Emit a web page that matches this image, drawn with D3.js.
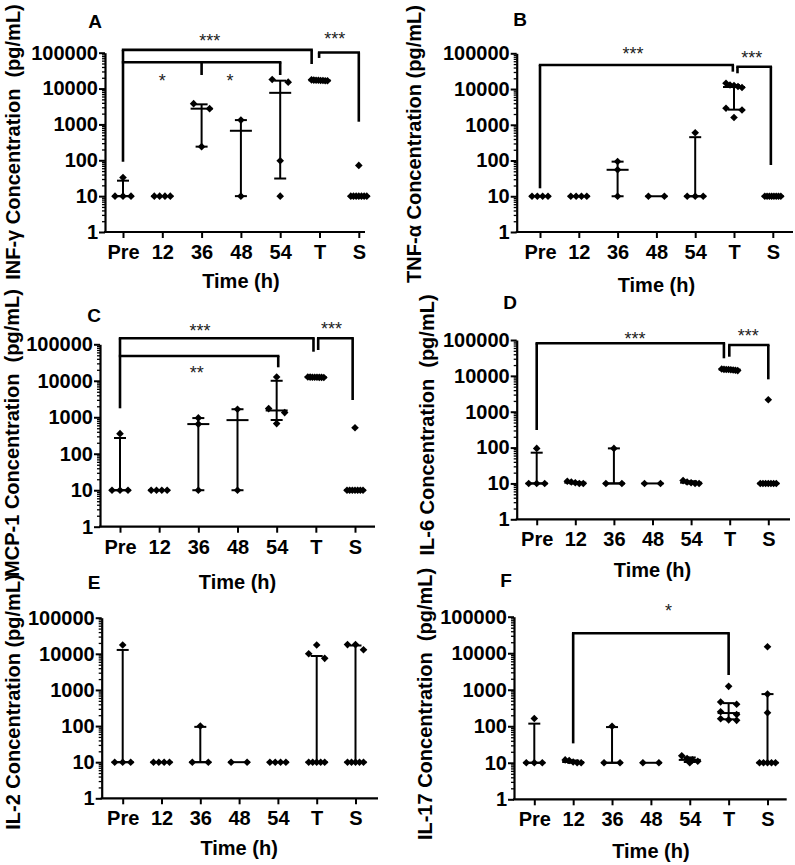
<!DOCTYPE html>
<html>
<head>
<meta charset="utf-8">
<script src="https://cdn.jsdelivr.net/npm/d3@7"></script>
<style>
  body { margin: 0; background: #fff; }
  svg { display: block; }
  text { font-family: "Liberation Sans", Arial, Helvetica, sans-serif; }
</style>
</head>
<body>
<svg id="chart" width="795" height="865"></svg>
<script>
// ---------------- DATA ----------------
const categories = ["Pre", "12", "36", "48", "54", "T", "S"];
const yTickValues = [1, 10, 100, 1000, 10000, 100000];
const xAxisTitle = "Time (h)";

// Panel A: INF-γ
const ifnPoints = [
  [33, 10, 10, 10], [10, 10, 10, 10], [3800, 2750, 240], [1320, 10],
  [17900, 15100, 97, 10],
  [17500, 17200, 17000, 17000, 16800, 16800, 16500, 16500],
  [72, 10, 10, 10, 10, 10, 10, 10]
];
const ifnMedian = [10, 10, 2750, 665, 7600, 17000, 10];
const ifnLower  = [10, 10, 240, 10, 31, 16800, 10];
const ifnUpper  = [27, 10, 3630, 1320, 16600, 17200, 10];
const ifnBrackets = [
  { y: 120000, x1: 0, x2: 4.80, drops: [[0, 91], [4.80, 48400]] },
  { y: 54000, x1: 0, x2: 4.0, drops: [[2, 23900], [4.0, 23900]] },
  { y: 101000, x1: 4.99, x2: 6.0, drops: [[4.99, 71300], [6.0, 1190]] }
];
const ifnStars = [
  { x: 2.21, y: 282000, label: "***" }, { x: 5.39, y: 309000, label: "***" },
  { x: 1.0, y: 21400, label: "*" }, { x: 2.72, y: 21400, label: "*" }
];

// Panel B: TNF-α
const tnfPoints = [
  [10, 10, 10, 10], [10, 10, 10, 10], [94, 55, 10], [10, 10], [600, 10, 10, 10],
  [14500, 13000, 12500, 11800, 11000, 2900, 2600, 1600],
  [10, 10, 10, 10, 10, 10, 10, 10]
];
const tnfMedian = [10, 10, 55, 10, 10, 11400, 10];
const tnfLower  = [10, 10, 10, 10, 10, 2650, 10];
const tnfUpper  = [10, 10, 93, 10, 450, 12900, 10];
const tnfBrackets = [
  { y: 47100, x1: 0, x2: 4.97, drops: [[0, 16.7], [4.97, 30600]] },
  { y: 42200, x1: 5.09, x2: 5.95, drops: [[5.09, 27600], [5.95, 75]] }
];
const tnfStars = [
  { x: 2.40, y: 123000, label: "***" }, { x: 5.46, y: 95500, label: "***" }
];

// Panel C: MCP-1
const mcpPoints = [
  [355, 10, 10, 10], [10, 10, 10, 10], [960, 650, 10], [1660, 10],
  [12700, 1730, 1340, 670],
  [12700, 12600, 12500, 12500, 12500, 12400, 12400, 12300],
  [515, 10, 10, 10, 10, 10, 10, 10]
];
const mcpMedian = [10, 10, 650, 835, 1535, 12500, 10];
const mcpLower  = [10, 10, 10, 10, 840, 12400, 10];
const mcpUpper  = [270, 10, 950, 1660, 10000, 12600, 10];
const mcpBrackets = [
  { y: 146000, x1: 0, x2: 4.94, drops: [[0, 1760], [4.94, 62700]] },
  { y: 47800, x1: 0, x2: 4.04, drops: [[4.04, 23400]] },
  { y: 146000, x1: 5.06, x2: 5.94, drops: [[5.06, 69800], [5.94, 2970]] }
];
const mcpStars = [
  { x: 2.04, y: 302000, label: "***" }, { x: 5.40, y: 339000, label: "***" },
  { x: 1.96, y: 20900, label: "**" }
];

// Panel D: IL-6
const il6Points = [
  [95, 10, 10, 10], [11.5, 11, 10.5, 10, 10], [95, 10, 10], [10, 10],
  [12, 11, 10.5, 10, 10],
  [15500, 15200, 15000, 15000, 14800, 14600, 14400, 14000],
  [2150, 10, 10, 10, 10, 10, 10, 10]
];
const il6Median = [10, 10.5, 10, 10, 10.5, 14900, 10];
const il6Lower  = [10, 10, 10, 10, 10, 14500, 10];
const il6Upper  = [72, 11, 95, 10, 11.5, 15200, 10];
const il6Brackets = [
  { y: 80900, x1: 0, x2: 4.85, drops: [[0, 309], [4.85, 30900]] },
  { y: 72400, x1: 4.99, x2: 6.0, drops: [[4.99, 34200], [6.0, 8000]] }
];
const il6Stars = [
  { x: 2.55, y: 138000, label: "***" }, { x: 5.48, y: 170000, label: "***" }
];

// Panel E: IL-2
const il2Points = [
  [17500, 10, 10, 10], [10, 10, 10, 10], [100, 10, 10], [10, 10], [10, 10, 10, 10],
  [17500, 10000, 7500, 10, 10, 10, 10, 10],
  [18000, 18000, 13000, 10, 10, 10, 10, 10]
];
const il2Median = [10, 10, 10, 10, 10, 10, 10];
const il2Lower  = [10, 10, 10, 10, 10, 10, 10];
const il2Upper  = [12800, 10, 95, 10, 10, 8700, 17000];
const il2Brackets = [];
const il2Stars = [];

// Panel F: IL-17
const il17Points = [
  [163, 10, 10, 10], [12, 11.5, 10.5, 10, 10], [100, 10, 10], [10, 10],
  [15.5, 13, 12, 11, 10],
  [1240, 460, 400, 250, 210, 160, 150, 145],
  [15100, 760, 235, 10, 10, 10, 10, 10]
];
const il17Median = [10, 10.5, 10, 10, 12, 230, 10];
const il17Lower  = [10, 10, 10, 10, 10.5, 155, 10];
const il17Upper  = [118, 11.5, 95, 10, 14, 430, 760];
const il17Brackets = [
  { y: 35100, x1: 1, x2: 5, drops: [[1, 34], [5, 2530]] }
];
const il17Stars = [{ x: 3.45, y: 186000, label: "*" }];

// ---------------- LAYOUT ----------------
const panels = [
  { letter: "A", title: "INF-\u03b3 Concentration  (pg/mL)", points: ifnPoints, median: ifnMedian, lower: ifnLower, upper: ifnUpper, brackets: ifnBrackets, stars: ifnStars,
    L: { x0: 105, xEnd: 365, first: 123, last: 358.8, yTop: 52.7, yBot: 232, lx: 95, ly: 21, tx: 12.8, ty: 142, timeY: 281 } },
  { letter: "B", title: "TNF-\u03b1 Concentration (pg/mL)", points: tnfPoints, median: tnfMedian, lower: tnfLower, upper: tnfUpper, brackets: tnfBrackets, stars: tnfStars,
    L: { x0: 516.7, xEnd: 793, first: 540, last: 772.8, yTop: 53.3, yBot: 232, lx: 520, ly: 19, tx: 414, ty: 144, timeY: 285 } },
  { letter: "C", title: "MCP-1 Concentration  (pg/mL)", points: mcpPoints, median: mcpMedian, lower: mcpLower, upper: mcpUpper, brackets: mcpBrackets, stars: mcpStars,
    L: { x0: 100, xEnd: 375, first: 120, last: 355, yTop: 344.3, yBot: 526.7, lx: 94, ly: 315, tx: 11.5, ty: 433, timeY: 582 } },
  { letter: "D", title: "IL-6 Concentration  (pg/mL)", points: il6Points, median: il6Median, lower: il6Lower, upper: il6Upper, brackets: il6Brackets, stars: il6Stars,
    L: { x0: 516.7, xEnd: 790, first: 536.7, last: 768.3, yTop: 340, yBot: 519.3, lx: 510, ly: 302, tx: 426.7, ty: 425, timeY: 570 } },
  { letter: "E", title: "IL-2 Concentration (pg/mL)", points: il2Points, median: il2Median, lower: il2Lower, upper: il2Upper, brackets: il2Brackets, stars: il2Stars,
    L: { x0: 101.7, xEnd: 378, first: 122.7, last: 355.5, yTop: 617.7, yBot: 798.3, lx: 94, ly: 582, tx: 12.5, ty: 702, timeY: 848 } },
  { letter: "F", title: "IL-17 Concentration  (pg/mL)", points: il17Points, median: il17Median, lower: il17Lower, upper: il17Upper, brackets: il17Brackets, stars: il17Stars,
    L: { x0: 514, xEnd: 786.7, first: 534.3, last: 767.5, yTop: 616.7, yBot: 799.3, lx: 506, ly: 580, tx: 425, ty: 704, timeY: 851 } }
];

const svg = d3.select("#chart");
const FS = 20;          // axis text font size
const R = 3.8;          // diamond half-diagonal
const MED_HW = 11;      // median half width
const CAP_HW = 6;       // whisker cap half width
const SPREAD = 16;      // horizontal spread of a row of points

panels.forEach(p => {
  const L = p.L;
  const g = svg.append("g");
  const x = d3.scalePoint().domain(categories).range([L.first, L.last]).padding(0);
  const xi = i => L.first + i * x.step();
  const y = d3.scaleLog().domain([1, 100000]).range([L.yBot, L.yTop]);

  // minor ticks
  const minor = [];
  for (let d = 1; d < 100000; d *= 10) for (let k = 2; k <= 9; k++) minor.push(k * d);
  g.append("g").attr("transform", `translate(${L.x0},0)`)
    .call(d3.axisLeft(y).tickValues(minor).tickSize(3).tickFormat(""))
    .call(a => a.select(".domain").remove())
    .selectAll("line").attr("stroke", "#000").attr("stroke-width", 1.3);

  // y axis
  const ya = g.append("g").attr("transform", `translate(${L.x0},0)`)
    .call(d3.axisLeft(y).tickValues(yTickValues).tickFormat(d3.format("d")).tickSize(6).tickSizeOuter(0).tickPadding(1));
  ya.select(".domain").attr("stroke", "#000").attr("stroke-width", 2.2);
  ya.selectAll("line").attr("stroke", "#000").attr("stroke-width", 2);
  ya.selectAll("text").attr("font-size", FS).attr("font-weight", "bold").attr("fill", "#000")
    .attr("font-family", '"Liberation Sans", Arial, sans-serif');

  // x axis
  const xa = g.append("g").attr("transform", `translate(0,${L.yBot})`)
    .call(d3.axisBottom(x).tickSize(6).tickSizeOuter(0).tickPadding(7));
  xa.select(".domain").remove();
  xa.selectAll("line").attr("stroke", "#000").attr("stroke-width", 2);
  xa.selectAll("text").attr("font-size", FS).attr("font-weight", "bold").attr("fill", "#000")
    .attr("font-family", '"Liberation Sans", Arial, sans-serif');
  g.append("line").attr("x1", L.x0 - 1).attr("x2", L.xEnd).attr("y1", L.yBot).attr("y2", L.yBot)
    .attr("stroke", "#000").attr("stroke-width", 2.2);

  // axis titles
  g.append("text").attr("x", (L.first + L.last) / 2).attr("y", L.timeY + 7.2)
    .attr("text-anchor", "middle").attr("font-size", FS).attr("font-weight", "bold").text(xAxisTitle);
  g.append("text").attr("transform", `translate(${L.tx + 7.2},${L.ty}) rotate(-90)`)
    .attr("text-anchor", "middle").attr("font-size", FS).attr("font-weight", "bold")
    .style("white-space", "pre").text(p.title);
  g.append("text").attr("x", L.lx).attr("y", L.ly + 6.8).attr("text-anchor", "middle")
    .attr("font-size", 19).attr("font-weight", "bold").text(p.letter);

  // error bars + medians
  categories.forEach((c, i) => {
    const cx = x(c);
    const lo = p.lower[i], hi = p.upper[i], md = p.median[i];
    if (hi !== lo) {
      g.append("line").attr("x1", cx).attr("x2", cx).attr("y1", y(lo)).attr("y2", y(hi))
        .attr("stroke", "#000").attr("stroke-width", 2);
      [lo, hi].forEach(v => g.append("line").attr("x1", cx - CAP_HW).attr("x2", cx + CAP_HW)
        .attr("y1", y(v)).attr("y2", y(v)).attr("stroke", "#000").attr("stroke-width", 2));
    }
    g.append("line").attr("x1", cx - MED_HW).attr("x2", cx + MED_HW).attr("y1", y(md)).attr("y2", y(md))
      .attr("stroke", "#000").attr("stroke-width", 2);

    // points: group values with close pixel positions, spread each group symmetrically
    const vals = p.points[i].slice().sort((a, b) => b - a);
    const groups = [];
    vals.forEach(v => {
      const py = y(v);
      const last = groups[groups.length - 1];
      if (last && py - last.start <= 5.5) last.items.push(v);
      else groups.push({ start: py, items: [v] });
    });
    groups.forEach(gr => {
      const n = gr.items.length;
      const s = n > 1 ? SPREAD / (n - 1) : 0;
      gr.items.forEach((v, k) => {
        const px = cx + (k - (n - 1) / 2) * s;
        g.append("path").attr("transform", `translate(${px},${y(v)})`)
          .attr("d", `M0,${-R}L${R},0L0,${R}L${-R},0Z`).attr("fill", "#000");
      });
    });
  });

  // significance brackets
  p.brackets.forEach(b => {
    g.append("line").attr("x1", xi(b.x1) - 1.2).attr("x2", xi(b.x2) + 1.2).attr("y1", y(b.y)).attr("y2", y(b.y))
      .attr("stroke", "#000").attr("stroke-width", 2.6);
    b.drops.forEach(([di, dv]) => {
      g.append("line").attr("x1", xi(di)).attr("x2", xi(di)).attr("y1", y(b.y)).attr("y2", y(dv))
        .attr("stroke", "#000").attr("stroke-width", 2.6);
    });
  });
  p.stars.forEach(s => {
    g.append("text").attr("x", xi(s.x)).attr("y", y(s.y) + 10).attr("text-anchor", "middle")
      .attr("font-size", 18).attr("fill", "#222").text(s.label);
  });
});
</script>
</body>
</html>
